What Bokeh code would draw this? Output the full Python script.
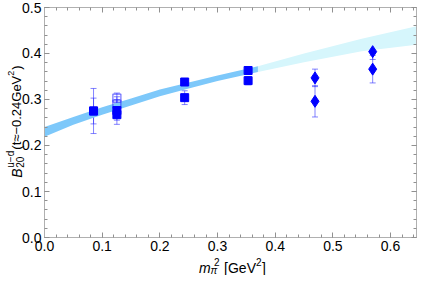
from bokeh.plotting import figure
from bokeh.models import (Range1d, LinearAxis, SingleIntervalTicker, PrintfTickFormatter,
                          Whisker, TeeHead, ColumnDataSource, Label)
from bokeh.embed import file_html
from bokeh.resources import INLINE
import math

# ---- data ----
band_dark_x = [0.0, 0.05, 0.10, 0.15, 0.20, 0.25, 0.30, 0.37]
band_dark_lo = [0.219, 0.245, 0.267, 0.287, 0.307, 0.324, 0.340, 0.360]
band_dark_hi = [0.240, 0.262, 0.283, 0.302, 0.322, 0.337, 0.352, 0.372]
band_light_x = [0.37, 0.45, 0.55, 0.645]
band_light_lo = [0.360, 0.381, 0.405, 0.419]
band_light_hi = [0.372, 0.400, 0.432, 0.459]

sq_x = [0.085, 0.085, 0.1255, 0.1255, 0.243, 0.243, 0.353, 0.353]
sq_y = [0.275, 0.275, 0.276, 0.267, 0.338, 0.304, 0.363, 0.341]
sq_err = [0.049, 0.028, 0.030, 0.012, 0.006, 0.015, 0.004, 0.009]

open_x = [0.1255, 0.1255]
open_y = [0.303, 0.290]
open_err = [0.011, 0.010]

dia_x = [0.469, 0.469, 0.569, 0.569]
dia_y = [0.347, 0.296, 0.404, 0.366]
dia_err = [0.019, 0.034, 0.017, 0.030]

x_min, x_max = 0.0, 0.645
y_min, y_max = 0.0, 0.5
x_ticks_interval = 0.1
y_ticks_interval = 0.1

FONT = "Liberation Sans"
BLUE = "#0000FF"
ERR = "#3030FF"
FRAME = "#B0B0B0"
TICK = "#909090"

p = figure(width=420, height=275, x_range=Range1d(-0.0763, 0.6519), y_range=Range1d(-0.0826, 0.5152),
           output_backend="svg", toolbar_location=None,
           min_border_left=0, min_border_right=0, min_border_top=0, min_border_bottom=0)
p.grid.visible = False
p.outline_line_color = None
p.background_fill_color = "white"
p.border_fill_color = "white"

def style_axis(ax, interval, show_labels, loc, bounds):
    ax.ticker = SingleIntervalTicker(interval=interval, num_minor_ticks=5)
    ax.formatter = PrintfTickFormatter(format="%.1f")
    ax.fixed_location = loc
    ax.bounds = bounds
    ax.axis_line_color = FRAME
    ax.axis_line_width = 1
    ax.major_tick_in = 5
    ax.major_tick_out = 0
    ax.minor_tick_in = 3
    ax.minor_tick_out = 0
    ax.major_tick_line_color = TICK
    ax.minor_tick_line_color = TICK
    ax.major_label_text_font = FONT
    ax.major_label_text_color = "black"
    ax.major_label_standoff = 3
    if show_labels:
        ax.major_label_text_font_size = "14px"
    else:
        ax.major_label_text_font_size = "0px"
        ax.major_label_text_alpha = 0

style_axis(p.xaxis[0], x_ticks_interval, True, y_min, (x_min, x_max))
style_axis(p.yaxis[0], y_ticks_interval, True, x_min, (y_min, y_max))
ax_top = LinearAxis()
style_axis(ax_top, x_ticks_interval, False, y_max, (x_min, x_max))
p.add_layout(ax_top, "above")
ax_right = LinearAxis()
style_axis(ax_right, y_ticks_interval, False, x_max, (y_min, y_max))
p.add_layout(ax_right, "right")

# ---- bands ----
p.varea(x=band_light_x, y1=band_light_lo, y2=band_light_hi, fill_color="#D6F6FC")
p.varea(x=band_dark_x, y1=band_dark_lo, y2=band_dark_hi, fill_color="#7DC8FA")

# ---- error bars + markers ----
def errbars(xs, ys, es):
    src = ColumnDataSource(dict(x=xs, upper=[y + e for y, e in zip(ys, es)],
                                lower=[y - e for y, e in zip(ys, es)]))
    w = Whisker(source=src, base="x", upper="upper", lower="lower", dimension="height",
                line_color=ERR, line_alpha=0.6, line_width=1,
                upper_head=TeeHead(size=6, line_color=ERR, line_alpha=0.6, line_width=1),
                lower_head=TeeHead(size=6, line_color=ERR, line_alpha=0.6, line_width=1))
    p.add_layout(w)

errbars(sq_x, sq_y, sq_err)
errbars(open_x, open_y, open_err)
errbars(dia_x, dia_y, dia_err)

p.scatter(open_x, open_y, marker="square", size=8, fill_color=None,
          line_color=ERR, line_alpha=0.7, line_width=1.2)
p.scatter(sq_x, sq_y, marker="square", size=8, fill_color=BLUE, line_color=BLUE)
p.scatter(dia_x, dia_y, marker="diamond", size=12, fill_color=BLUE, line_color=BLUE)

# ---- axis titles built from pieces ----
def lab(x, y, text, xo, yo, size, style="normal", angle=0.0):
    p.add_layout(Label(x=x, y=y, x_units="data", y_units="data", x_offset=xo, y_offset=yo,
                       text=text, angle=angle, text_font=FONT, text_font_size=size,
                       text_font_style=style, text_color="black",
                       text_baseline="alphabetic", text_align="left"))

A = math.pi / 2
y0 = 0.13
lab(x_min, y0, "B", -28, 0, "14px", "italic", A)
lab(x_min, y0, "u\u2212d", -34, 10, "10px", "normal", A)
lab(x_min, y0, "20", -25, 10, "10px", "normal", A)
lab(x_min, y0, "(t\u2248\u22120.24GeV", -28, 28, "13px", "normal", A)
lab(x_min, y0, "2", -34, 102, "9px", "normal", A)
lab(x_min, y0, ")", -28, 108, "13px", "normal", A)

x0 = 0.268
lab(x0, y_min, "m", 0, -30, "14px", "italic")
lab(x0, y_min, "\u03c0", 11.5, -33, "10px", "italic")
lab(x0, y_min, "2", 15, -24, "10px")
lab(x0, y_min, "[GeV", 25, -30, "14px")
lab(x0, y_min, "2", 57, -24, "10px")
lab(x0, y_min, "]", 63, -30, "14px")

open("out.html", "w").write(file_html(p, INLINE))
